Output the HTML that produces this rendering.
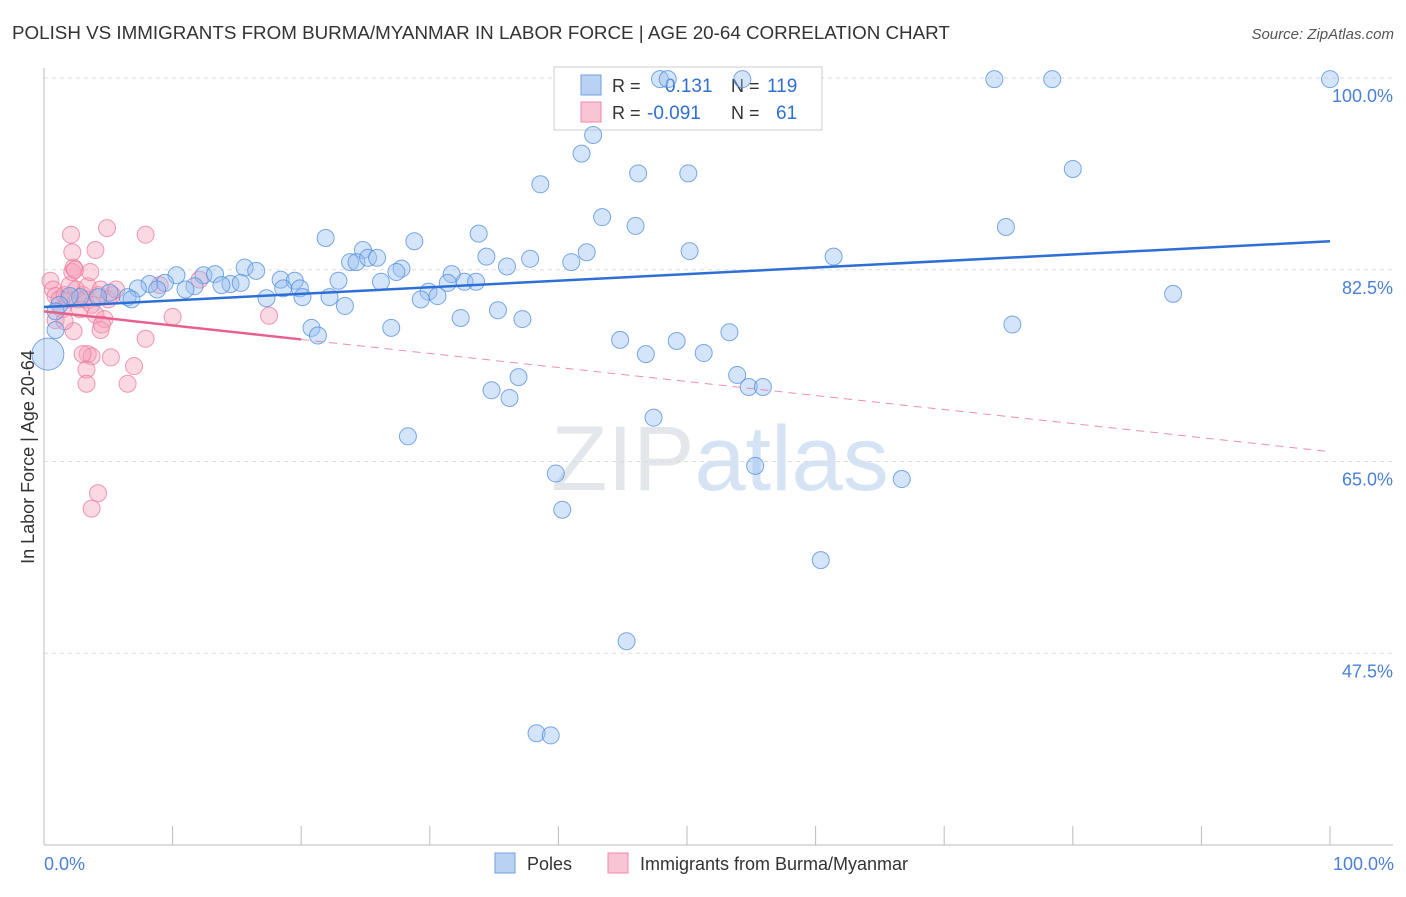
<!DOCTYPE html>
<html><head><meta charset="utf-8"><style>
body{margin:0;background:#fff;font-family:"Liberation Sans",sans-serif;}
svg text{font-family:"Liberation Sans",sans-serif;}
</style></head><body>
<svg id="chart" width="1406" height="892" xmlns="http://www.w3.org/2000/svg">
<text x="12" y="39" font-size="18.8" fill="#333">POLISH VS IMMIGRANTS FROM BURMA/MYANMAR IN LABOR FORCE | AGE 20-64 CORRELATION CHART</text>
<text x="1394" y="39" font-size="15" fill="#555" text-anchor="end" font-style="italic">Source: ZipAtlas.com</text>
<text x="720" y="490" font-size="92" fill="#e3e6ea" text-anchor="middle" font-family="Liberation Serif">ZIP<tspan fill="#d6e3f5" font-family="Liberation Sans">atlas</tspan></text>
<g id="grid"></g>
<g id="axes"></g>
<g>
<rect x="554" y="67" width="268" height="63" fill="#fff" stroke="#ccc"/>
<rect x="581" y="75" width="20" height="20" fill="#b9d2f4" stroke="#6f9fe0"/>
<rect x="581" y="102" width="20" height="20" fill="#f9c5d4" stroke="#f08aaa"/>
<text x="612" y="92" font-size="18" fill="#333">R =</text>
<text x="665" y="92" font-size="19" fill="#2f6fd0">0.131</text>
<text x="731" y="92" font-size="18" fill="#333">N =</text>
<text x="767" y="92" font-size="19" fill="#2f6fd0">119</text>
<text x="612" y="119" font-size="18" fill="#333">R =</text>
<text x="647" y="119" font-size="19" fill="#2f6fd0">-0.091</text>
<text x="731" y="119" font-size="18" fill="#333">N =</text>
<text x="776" y="119" font-size="19" fill="#2f6fd0">61</text>
</g>
<g id="pts"></g>
<g id="trends"></g>
<text transform="translate(34,457) rotate(-90)" font-size="18" fill="#333" text-anchor="middle">In Labor Force | Age 20-64</text>
<text x="44" y="870" font-size="18" fill="#4a7fd6">0.0%</text>
<text x="1394" y="870" font-size="18" fill="#4a7fd6" text-anchor="end">100.0%</text>
<g>
<rect x="495" y="853" width="20" height="20" fill="#b9d2f4" stroke="#6f9fe0"/>
<text x="527" y="870" font-size="18" fill="#333">Poles</text>
<rect x="608" y="853" width="20" height="20" fill="#f9c5d4" stroke="#f08aaa"/>
<text x="640" y="870" font-size="18" fill="#333">Immigrants from Burma/Myanmar</text>
</g>
</svg>
<script>
const yTicks=[100,82.5,65,47.5];
const yTickLabels=["100.0%","82.5%","65.0%","47.5%"];
const xTicks=[0,10,20,30,40,50,60,70,80,90,100];
const polesX=[47.9,48.5,54.3,73.9,78.4,100,42.7,41.8,38.6,46.2,50.1,80.0,43.4,46.0,74.8,21.9,28.8,33.8,24.8,42.2,50.2,37.8,41.0,34.4,36.0,61.4,23.8,24.3,25.2,25.9,27.8,27.4,31.7,31.4,32.7,33.6,26.2,22.9,15.6,16.5,10.3,12.4,13.3,18.4,19.5,18.6,19.9,14.5,15.3,13.8,11.7,11.0,9.4,8.2,7.3,8.8,5.1,6.5,6.8,4.2,2.8,2.0,1.2,0.9,17.3,20.1,22.2,23.4,29.9,30.6,29.3,87.8,35.3,32.4,37.2,27.0,20.8,21.3,75.3,53.3,44.8,49.2,46.8,51.3,53.9,54.8,55.9,36.9,34.8,36.2,47.4,28.3,55.3,39.8,66.7,40.3,60.4,45.3,38.3,39.4,0.9,0.3];
const polesY=[99.9,99.9,99.9,99.9,99.9,99.9,94.8,93.1,90.3,91.3,91.3,91.7,87.3,86.5,86.4,85.4,85.1,85.8,84.3,84.1,84.2,83.5,83.2,83.7,82.8,83.7,83.2,83.2,83.6,83.6,82.6,82.3,82.1,81.3,81.4,81.4,81.4,81.5,82.7,82.4,82.0,82.0,82.1,81.6,81.5,80.8,80.8,81.2,81.3,81.1,81.0,80.7,81.3,81.2,80.8,80.7,80.4,80.0,79.8,80.0,80.0,80.1,79.3,78.7,79.9,80.0,80.0,79.2,80.5,80.1,79.8,80.3,78.8,78.1,78.0,77.2,77.2,76.5,77.5,76.8,76.1,76.0,74.8,74.9,72.9,71.8,71.8,72.7,71.5,70.8,69.0,67.3,64.6,63.9,63.4,60.6,56.0,48.6,40.2,40.0,77.0,74.8];
const burmaX=[0.5,0.7,0.9,1.2,1.4,1.6,1.9,2.0,2.2,2.3,2.5,2.6,2.8,3.0,3.2,3.4,3.6,3.7,4.0,4.2,4.4,4.7,5.0,5.3,5.6,2.1,2.2,2.4,4.9,7.9,4.0,7.9,10.0,17.5,12.1,9.0,2.3,3.4,3.7,3.0,5.2,3.3,3.3,6.5,7.0,4.2,3.7,0.9,1.6,4.4,4.5];
const burmaY=[81.5,80.7,80.1,79.8,78.9,80.2,79.8,81.1,82.3,82.7,80.7,79.8,78.9,80.2,79.8,81.0,82.3,79.3,78.4,80.2,80.7,78.0,79.8,80.2,80.7,85.7,84.1,82.5,86.3,85.7,84.3,76.2,78.2,78.3,81.6,81.1,76.9,74.8,74.6,74.8,74.5,73.4,72.1,72.1,73.7,62.1,60.7,77.9,77.8,77.0,77.5];
const polesTrend=[79.1,85.1];
const burmaTrend=[78.7,65.9];
const burmaSolidEnd=20;
const NS="http://www.w3.org/2000/svg";
const xs=v=>44+v*12.86;
const ys=v=>845-(v-30)*10.957;
function mk(tag,attrs,parent){const e=document.createElementNS(NS,tag);for(const k in attrs)e.setAttribute(k,attrs[k]);document.getElementById(parent).appendChild(e);return e;}
yTicks.forEach((t,i)=>{
 const l=mk('line',{x1:44,x2:1393,y1:ys(t),y2:ys(t),stroke:'#ddd','stroke-dasharray':'4,4'},'grid');
 
 
 const tx=mk('text',{x:1393,y:ys(t)+24,'font-size':18,fill:'#4a7fd6','text-anchor':'end'},'grid');
 tx.textContent=yTickLabels[i];
 
 
});
let a=mk('line',{x1:44,x2:44,y1:68,y2:845,stroke:'#bbb'},'axes');


a=mk('line',{x1:44,x2:1393,y1:845,y2:845,stroke:'#bbb'},'axes');


xTicks.forEach(t=>{
 const l=mk('line',{x1:xs(t),x2:xs(t),y1:826,y2:845,stroke:'#bbb'},'axes');
 
 
});
burmaX.forEach((x,i)=>{
 const c=mk('circle',{cx:xs(x),cy:ys(burmaY[i]),r:8.5,fill:'rgba(245,160,185,0.4)',stroke:'rgba(236,120,155,0.75)','stroke-width':1},'pts');
 
 
});
polesX.forEach((x,i)=>{
 const big=i===polesX.length-1;
 const c=mk('circle',{cx:xs(x),cy:ys(polesY[i]),r:big?16:8.5,fill:'rgba(150,190,240,0.4)',stroke:'rgba(80,140,220,0.75)','stroke-width':1},'pts');
 
 
});
const bt=v=>burmaTrend[0]+(burmaTrend[1]-burmaTrend[0])*v/100;
let t=mk('line',{x1:xs(0),y1:ys(polesTrend[0]),x2:xs(100),y2:ys(polesTrend[1]),stroke:'#2e6fd6','stroke-width':2.5},'trends');


t=mk('line',{x1:xs(0),y1:ys(bt(0)),x2:xs(burmaSolidEnd),y2:ys(bt(burmaSolidEnd)),stroke:'#e8608c','stroke-width':2.5},'trends');


t=mk('line',{x1:xs(burmaSolidEnd),y1:ys(bt(burmaSolidEnd)),x2:xs(100),y2:ys(bt(100)),stroke:'#e8608c','stroke-width':1,'stroke-dasharray':'8,6',opacity:0.7},'trends');


</script>
</body></html>
